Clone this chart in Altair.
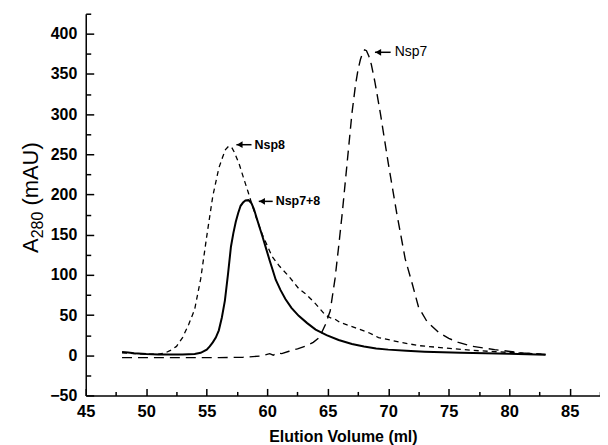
import altair as alt
import pandas as pd

# ---- data ----
nsp8_x = [48.0, 48.5, 49.0, 50.0, 51.0, 51.5, 52.0, 52.5, 53.0, 53.5, 54.0, 54.5, 55.0, 55.5,
          56.0, 56.3, 56.55, 56.8, 57.05, 57.3, 57.7, 58.1, 58.4, 59.0, 59.6, 60.4, 61.0, 61.8,
          62.6, 63.2, 64.0, 64.8, 65.3, 65.6, 66.0, 67.3, 68.4, 69.2, 70.9, 72.5, 74.7, 77.0,
          80.2, 83.0]
nsp8_y = [3, 2.5, 2, 1.5, 1.5, 2.5, 6, 11, 22, 38, 57, 95, 148, 198,
          233, 246, 256, 260, 259, 252, 237, 218, 204, 175, 150, 123, 111, 98,
          83, 76, 64, 50, 46, 45, 41, 34, 28, 22, 16.5, 12, 9, 6,
          3.3, 1]

nsp78_x = [48.0, 48.5, 49.0, 50.0, 51.0, 52.0, 53.0, 54.0, 54.5, 55.0, 55.25, 55.5, 55.75,
           56.0, 56.25, 56.5, 56.75, 57.0, 57.2, 57.4, 57.6, 57.8, 58.0, 58.2, 58.45, 58.7,
           58.9, 59.1, 59.35, 59.6, 59.9, 60.2, 60.45, 60.7, 61.1, 61.5, 62.0, 62.6, 63.3,
           64.0, 64.9, 65.9, 67.0, 68.0, 69.0, 70.0, 71.5, 73.0, 76.0, 80.0, 83.0]
nsp78_y = [4, 3.5, 2.5, 1.5, 1, 1, 1, 1.5, 3, 7, 11, 16, 22,
           31, 47, 68, 100, 135, 152, 166, 177, 186, 190, 192.5, 193, 189,
           182, 172, 160, 148, 133, 118, 106, 94, 81, 70, 59, 49, 40,
           32, 25, 19, 14, 11, 8.5, 7, 5.5, 4.5, 3, 2, 0.5]

nsp7_x = [48.0, 50.0, 52.0, 54.0, 56.0, 58.0, 59.5, 60.2, 60.5, 60.8, 61.2, 61.8, 62.5, 63.2,
          63.8, 64.3, 64.8, 65.2, 65.6, 65.9, 66.2, 66.6, 67.0, 67.3, 67.5, 67.7, 67.9, 68.05,
          68.2, 68.4, 68.6, 68.9, 69.35, 70.0, 70.7, 71.4, 72.0, 72.5, 73.2, 74.2, 75.0, 75.8,
          77.0, 78.8, 81.0, 83.0]
nsp7_y = [-3, -3, -3, -3, -3, -2.5, -1, 2, 0, 3, 2, 5, 8, 11.5,
          16, 22, 38, 55, 95, 135, 177, 239, 301, 337, 355, 368, 377, 380,
          379, 372, 362, 340, 301, 239, 177, 120, 88, 60, 42, 28, 21, 16,
          11, 7, 3, 1]

ann_label = ["Nsp8", "Nsp7+8", "Nsp7"]
ann_tip_x = [57.45, 59.3, 68.9]
ann_tail_x = [58.7, 60.45, 70.2]
ann_y = [262, 191.5, 377]
ann_weight = ["bold", "bold", "normal"]

x_major = [45, 50, 55, 60, 65, 70, 75, 80, 85]
x_minor = [47.5, 52.5, 57.5, 62.5, 67.5, 72.5, 77.5, 82.5, 87.5]
y_major = [-50, 0, 50, 100, 150, 200, 250, 300, 350, 400]
y_minor = [-25, 25, 75, 125, 175, 225, 275, 325, 375, 425]

# y title pieces: "A", subscript "280", " (mAU)"
ytitle_text = ["A", "280", "(mAU)"]

X_DOMAIN = [45, 87.5]
Y_DOMAIN = [-50, 425]
W, H = 516, 383
FONT = "Liberation Sans"

xs = alt.Scale(domain=X_DOMAIN, nice=False, zero=False)
ys = alt.Scale(domain=Y_DOMAIN, nice=False, zero=False)

df8 = pd.DataFrame({"v": nsp8_x, "a": nsp8_y})
df78 = pd.DataFrame({"v": nsp78_x, "a": nsp78_y})
df7 = pd.DataFrame({"v": nsp7_x, "a": nsp7_y})
dfa = pd.DataFrame({"label": ann_label, "tip": ann_tip_x, "tail": ann_tail_x,
                    "y": ann_y, "w": ann_weight})

x_main = alt.Axis(orient="bottom", values=x_major, ticks=False, domain=True,
                  domainColor="black", domainWidth=1.5, grid=False,
                  labelFont=FONT, labelFontSize=16.5, labelFontWeight="bold",
                  labelColor="black", labelPadding=8, labelFlush=False,
                  title="Elution Volume (ml)", titleFont=FONT, titleFontSize=16,
                  titleFontWeight="bold", titleColor="black", titleY=46,
                  titleBaseline="alphabetic")
y_main = alt.Axis(orient="left", values=y_major, ticks=False, domain=True,
                  domainColor="black", domainWidth=1.5, grid=False,
                  labelFont=FONT, labelFontSize=16, labelFontWeight="bold",
                  labelColor="black", labelPadding=9, labelFlush=False,
                  title=None)

x_maj_ticks = alt.Axis(orient="top", offset=-H, values=x_major, labels=False,
                       domain=False, ticks=True, tickSize=7, tickWidth=1.5,
                       tickColor="black", grid=False, title=None)
x_min_ticks = alt.Axis(orient="top", offset=-H, values=x_minor, labels=False,
                       domain=False, ticks=True, tickSize=4, tickWidth=1.5,
                       tickColor="black", grid=False, title=None)
y_maj_ticks = alt.Axis(orient="right", offset=-W, values=y_major, labels=False,
                       domain=False, ticks=True, tickSize=8, tickWidth=1.5,
                       tickColor="black", grid=False, title=None)
y_min_ticks = alt.Axis(orient="right", offset=-W, values=y_minor, labels=False,
                       domain=False, ticks=True, tickSize=5, tickWidth=1.5,
                       tickColor="black", grid=False, title=None)

line8 = alt.Chart(df8).mark_line(color="black", strokeWidth=1.3, strokeDash=[5, 4]).encode(
    x=alt.X("v:Q", scale=xs, axis=x_main),
    y=alt.Y("a:Q", scale=ys, axis=y_main),
)
line7 = alt.Chart(df7).mark_line(color="black", strokeWidth=1.4, strokeDash=[10, 6]).encode(
    x=alt.X("v:Q", scale=xs, axis=x_maj_ticks),
    y=alt.Y("a:Q", scale=ys, axis=y_maj_ticks),
)
line78 = alt.Chart(df78).mark_line(color="black", strokeWidth=2).encode(
    x=alt.X("v:Q", scale=xs, axis=x_min_ticks),
    y=alt.Y("a:Q", scale=ys, axis=y_min_ticks),
)

arrow_shaft = alt.Chart(dfa).mark_rule(color="black", strokeWidth=1.5).encode(
    x=alt.X("tip:Q", scale=xs, axis=None),
    x2="tail:Q",
    y=alt.Y("y:Q", scale=ys, axis=None),
)
arrow_head = alt.Chart(dfa).mark_point(shape="triangle-left", filled=True, size=45,
                                       color="black", opacity=1, xOffset=3.3).encode(
    x=alt.X("tip:Q", scale=xs, axis=None),
    y=alt.Y("y:Q", scale=ys, axis=None),
)
ann_bold = alt.Chart(dfa[dfa["w"] == "bold"]).mark_text(
    align="left", baseline="middle", dx=3, font=FONT, fontSize=12.5,
    fontWeight="bold", color="black").encode(
    x=alt.X("tail:Q", scale=xs, axis=None),
    y=alt.Y("y:Q", scale=ys, axis=None),
    text="label:N",
)
ann_norm = alt.Chart(dfa[dfa["w"] == "normal"]).mark_text(
    align="left", baseline="middle", dx=4, font=FONT, fontSize=14,
    fontWeight="normal", color="black").encode(
    x=alt.X("tail:Q", scale=xs, axis=None),
    y=alt.Y("y:Q", scale=ys, axis=None),
    text="label:N",
)

# rotated y-axis title assembled from pieces (A with subscript 280)
TS, SS = 22, 16
base_y = 240  # bottom end of the title, in plot pixels
w_A = 0.667 * TS
w_sub = 3 * 0.556 * SS
w_sp = 0.278 * TS

def title_piece(txt, ypos, xpos, size):
    return alt.Chart(pd.DataFrame({"t": [txt]})).mark_text(
        align="left", baseline="alphabetic", angle=270, font=FONT,
        fontSize=size, color="black").encode(
        x=alt.value(xpos), y=alt.value(ypos), text="t:N")

t_A = title_piece(ytitle_text[0], base_y, -48, TS)
t_sub = title_piece(ytitle_text[1], base_y - w_A, -43, SS)
t_rest = title_piece(ytitle_text[2], base_y - w_A - w_sub - w_sp, -48, TS)

chart = alt.layer(line8, line7, line78, arrow_shaft, arrow_head, ann_bold, ann_norm,
                  t_A, t_sub, t_rest).resolve_axis(
    x="independent", y="independent"
).properties(
    width=W, height=H,
    autosize=alt.AutoSizeParams(type="none"),
    padding={"left": 78, "top": 5, "right": 0, "bottom": 49},
    background="white",
).configure_view(stroke=None)

chart.save("out.html", embed_options={"renderer": "svg", "actions": False})
